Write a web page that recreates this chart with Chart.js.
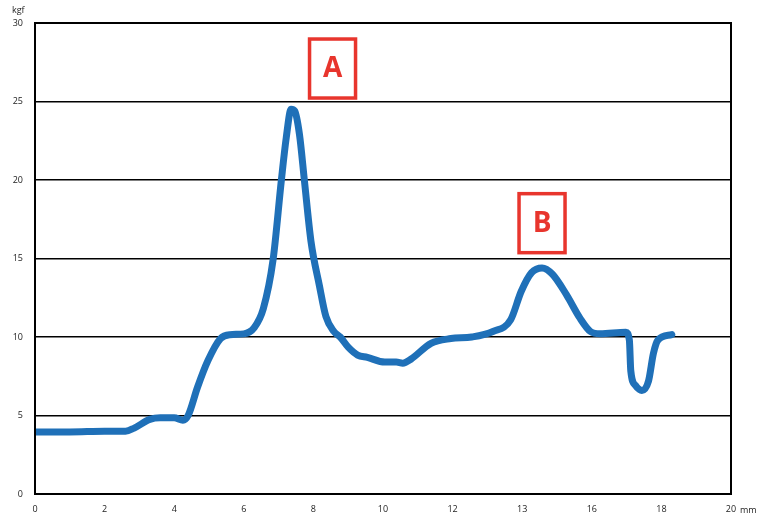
<!DOCTYPE html>
<html>
<head>
<meta charset="utf-8">
<script src="https://cdn.jsdelivr.net/npm/chart.js@4"></script>
<style>
  html, body { margin: 0; padding: 0; background: #fff; }
  #wrap { width: 769px; height: 518px; }
</style>
</head>
<body>
<div id="wrap"><canvas id="main-chart"></canvas></div>
<script>
// displacement (mm) and force (kgf)
const displacement = [0, 1.0, 2.0, 2.6, 2.85, 3.3, 3.6, 4.0, 4.25, 4.4, 4.67, 4.97, 5.33, 5.6, 6.0, 6.3, 6.56, 6.84, 7.08, 7.22, 7.36, 7.46, 7.6, 7.74, 7.93, 8.17, 8.36, 8.59, 8.77, 9.0, 9.27, 9.55, 10.05, 10.38, 10.57, 10.81, 11.38, 11.95, 12.55, 13.16, 13.67, 13.97, 14.27, 14.57, 14.87, 15.27, 15.66, 15.96, 16.24, 16.98, 17.08, 17.12, 17.26, 17.44, 17.63, 17.77, 17.9, 18.3];
const force = [3.95, 3.95, 4.0, 4.0, 4.2, 4.75, 4.85, 4.85, 4.7, 5.0, 6.8, 8.5, 9.9, 10.15, 10.2, 10.6, 11.8, 14.9, 20.0, 22.7, 24.5, 24.4, 22.9, 20.0, 16.1, 13.3, 11.3, 10.35, 10.0, 9.35, 8.85, 8.7, 8.4, 8.4, 8.33, 8.6, 9.6, 9.9, 10.0, 10.35, 11.1, 12.9, 14.1, 14.4, 14.0, 12.7, 11.2, 10.35, 10.2, 10.3, 9.8, 7.85, 6.9, 6.6, 7.2, 8.95, 9.8, 10.15];

const xTickLabels = ['0', '2', '4', '6', '8', '10', '12', '13', '16', '18', '20'];
const yTickLabels = ['0', '5', '10', '15', '20', '25', '30'];

// peak markers: label, x (mm), y (kgf) of box centre
const markerLabels = ['A', 'B'];
const markerX = [8.55, 14.57];
const markerY = [27.1, 17.25];

const FONT = "'Open Sans', 'DejaVu Sans', sans-serif";

const framePlugin = {
  id: 'frame',
  afterDraw(chart) {
    const { ctx, chartArea: a, scales } = chart;
    ctx.save();
    ctx.strokeStyle = '#000';
    ctx.lineWidth = 2;
    ctx.strokeRect(a.left, a.top, a.right - a.left, a.bottom - a.top);

    ctx.fillStyle = '#222';
    ctx.font = '9px ' + FONT;
    ctx.textAlign = 'left';
    ctx.textBaseline = 'middle';
    ctx.fillText('kgf', 12, 10);
    ctx.fillText('mm', a.right + 9, a.bottom + 16);

    // annotation boxes
    markerLabels.forEach((t, i) => {
      const cx = scales.x.getPixelForValue(markerX[i]);
      const cy = scales.y.getPixelForValue(markerY[i]);
      const w = 46, h = 59;
      ctx.strokeStyle = '#e8352d';
      ctx.lineWidth = 3.5;
      ctx.strokeRect(cx - w / 2, cy - h / 2, w, h);
      ctx.fillStyle = '#e8352d';
      ctx.font = 'bold 28px ' + FONT;
      ctx.textAlign = 'center';
      ctx.textBaseline = 'middle';
      ctx.fillText(t, cx, cy + 1);
    });
    ctx.restore();
  }
};

const ctx = document.getElementById('main-chart').getContext('2d');
new Chart(ctx, {
  type: 'line',
  data: {
    datasets: [{
      data: displacement.map((x, i) => ({ x: x, y: force[i] })),
      borderColor: '#1f70b8',
      borderWidth: 7,
      borderCapStyle: 'round',
      borderJoinStyle: 'round',
      pointRadius: 0,
      cubicInterpolationMode: 'monotone',
      fill: false
    }]
  },
  options: {
    responsive: true,
    maintainAspectRatio: false,
    animation: false,
    layout: { padding: { top: 23, right: 38, left: 0, bottom: 0 } },
    plugins: {
      legend: { display: false },
      tooltip: { enabled: false }
    },
    scales: {
      x: {
        type: 'linear',
        min: 0,
        max: 20,
        afterFit(s) { s.height = 24; },
        ticks: {
          stepSize: 2,
          padding: 10,
          color: '#222',
          font: { size: 9, family: FONT },
          maxRotation: 0,
          callback: (v, i) => xTickLabels[i]
        },
        grid: { display: false, drawTicks: false },
        border: { display: true, color: '#000', width: 2 }
      },
      y: {
        min: 0,
        max: 30,
        afterFit(s) { s.width = 35; },
        ticks: {
          stepSize: 5,
          padding: 12,
          color: '#222',
          font: { size: 9, family: FONT },
          callback: (v, i) => yTickLabels[i]
        },
        grid: { color: '#000', lineWidth: 1.6, drawTicks: false },
        border: { display: true, color: '#000', width: 2 }
      }
    }
  },
  plugins: [framePlugin]
});
</script>
</body>
</html>
